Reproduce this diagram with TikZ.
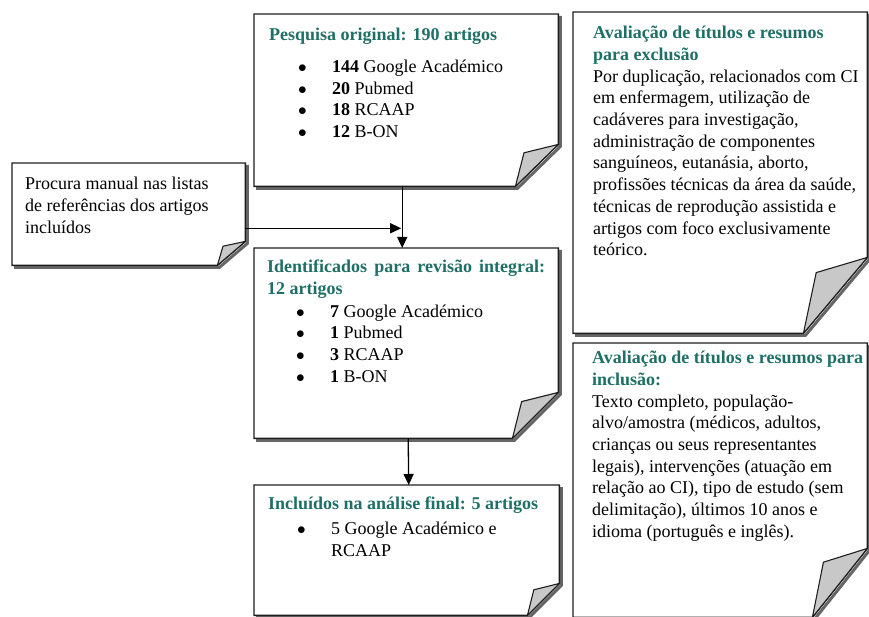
\documentclass[tikz,border=0pt]{standalone}
\usepackage{fontspec}
\setmainfont{Liberation Serif}
\usetikzlibrary{arrows.meta,positioning,calc}
\definecolor{titleTeal}{HTML}{1F6F66}
\definecolor{edgeGray}{HTML}{1E1E1E}
\definecolor{shadowGray}{HTML}{666666}
\definecolor{foldGray}{HTML}{C8C8C8}
\tikzset{note/.style={inner sep=0pt, anchor=north west}}
\tikzset{txt/.style={inner sep=0pt, align=left,
  font=\fontsize{18}{21.7}\selectfont}}
\tikzset{edge/.style={draw=edgeGray, line width=1.4pt}}
\tikzset{shade/.style={draw=shadowGray, line width=3pt}}
\tikzset{fold/.style={draw=edgeGray, fill=foldGray, line width=1.1pt,
  line join=round}}
\tikzset{arr/.style={draw, line width=1.3pt,
  -{Triangle[length=11pt,width=10pt]}}}
\newcommand{\ttl}[1]{\textcolor{titleTeal}{\textbf{#1}}}
\newcommand{\itm}[1]{\hspace*{29pt}\makebox[34pt][l]{$\bullet$}#1}
% outline with shadow and folded corner: node, cut x, cut y
\newcommand{\pagecurl}[3]{%
  \draw[shade] ([shift={(2,2)}]#1.south west)
    -- ([shift={(-#2+2,2)}]#1.south east)
    -- ([shift={(2,-#3+2)}]#1.south east)
    -- ([shift={(2,2)}]#1.north east);
  \draw[edge] (#1.south west) -- (#1.north west) -- (#1.north east)
    -- ([shift={(0,-#3)}]#1.south east)
    -- ([shift={(-#2,0)}]#1.south east) -- cycle;
  \draw[fold] ([shift={(-#2,0)}]#1.south east)
    -- ([shift={(-0.8*#2,-0.8*#3)}]#1.south east)
    -- ([shift={(0,-#3)}]#1.south east) -- cycle;
}

\begin{document}
\begin{tikzpicture}[x=1pt, y=-1pt]
  \useasboundingbox (0,0) rectangle (869,617);
  %% boxes
  \node[note, minimum width=233pt, minimum height=102pt] (manual) at (12,163) {};
  \node[note, minimum width=304pt, minimum height=172pt] (orig) at (254,14) {};
  \node[note, minimum width=304pt, minimum height=190pt] (ident) at (254,248) {};
  \node[note, minimum width=305pt, minimum height=130pt] (final) at (254,485) {};
  \node[note, minimum width=294pt, minimum height=321pt] (excl) at (573,12) {};
  \node[note, minimum width=294pt, minimum height=274pt] (incl) at (573,343) {};
  \pagecurl{manual}{28}{24}
  \pagecurl{orig}{43}{42}
  \pagecurl{ident}{46}{46}
  \pagecurl{final}{32}{32}
  \pagecurl{excl}{64}{76}
  \pagecurl{incl}{55}{69}
  %% texts
  \node[txt, below right=14pt and 13pt of manual.north west] (manualtxt)
    {Procura manual nas listas\\de referências dos artigos\\incluídos};
  \node[txt, below right=14pt and 15pt of orig.north west] (origtxt)
    {\ttl{Pesquisa original: 190 artigos}\\[10pt]
     \itm{\textbf{144} Google Académico}\\
     \itm{\textbf{20} Pubmed}\\
     \itm{\textbf{18} RCAAP}\\
     \itm{\textbf{12} B-ON}};
  \node[txt, below right=12pt and 13pt of ident.north west] (identtxt)
    {\makebox[278pt][s]{\ttl{Identificados para revisão integral:}}\\
     \ttl{12 artigos}\\[1pt]
     \itm{\textbf{7} Google Académico}\\
     \itm{\textbf{1} Pubmed}\\
     \itm{\textbf{3} RCAAP}\\
     \itm{\textbf{1} B-ON}};
  \node[txt, below right=12pt and 14pt of final.north west] (finaltxt)
    {\ttl{Incluídos na análise final: 5 artigos}\\[3pt]
     \itm{5 Google Académico e}\\
     \hspace*{63pt}RCAAP};
  \node[txt, below right=14pt and 20pt of excl.north west] (excltxt)
    {\ttl{Avaliação de títulos e resumos}\\
     \ttl{para exclusão}\\
     Por duplicação, relacionados com CI\\
     em enfermagem, utilização de\\
     cadáveres para investigação,\\
     administração de componentes\\
     sanguíneos, eutanásia, aborto,\\
     profissões técnicas da área da saúde,\\
     técnicas de reprodução assistida e\\
     artigos com foco exclusivamente\\
     teórico.};
  \node[txt, below right=8pt and 19pt of incl.north west] (incltxt)
    {\ttl{Avaliação de títulos e resumos para}\\
     \ttl{inclusão:}\\
     Texto completo, população-\\
     alvo/amostra (médicos, adultos,\\
     crianças ou seus representantes\\
     legais), intervenções (atuação em\\
     relação ao CI), tipo de estudo (sem\\
     delimitação), últimos 10 anos e\\
     idioma (português e inglês).};
  %% arrows
  \coordinate (join) at ($([xshift=-4pt]orig.south)!0.68!([xshift=-4pt]ident.north)$);
  \draw[arr] ([xshift=-4pt]orig.south) -- ([xshift=-4pt]ident.north);
  \draw[arr] (manual.east |- join) -- ([xshift=-1pt]join);
  \draw[arr] ([xshift=2pt]ident.south) -- ([xshift=2pt]final.north);
\end{tikzpicture}
\end{document}
